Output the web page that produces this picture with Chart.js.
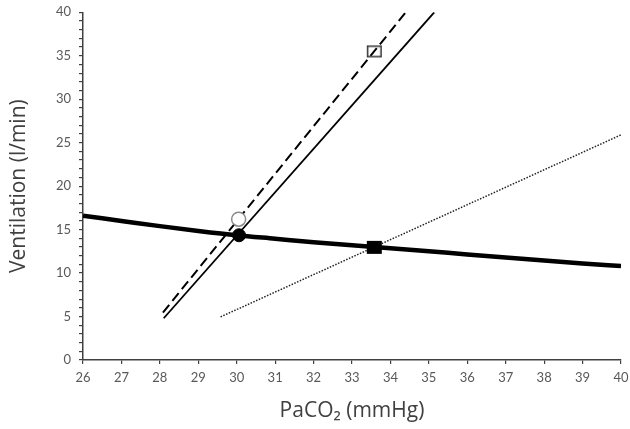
<!DOCTYPE html>
<html>
<head>
<meta charset="utf-8">
<script src="https://cdn.jsdelivr.net/npm/chart.js@4"></script>
<style>
  html, body { margin: 0; padding: 0; background: #fff; }
  #wrap { width: 630px; height: 429px; position: relative; }
</style>
</head>
<body>
<div id="wrap"><canvas id="c" width="630" height="429"></canvas></div>
<script>
// Thick curve (ventilation response)
const curveX = [26, 27, 28, 29, 30, 31, 32, 33, 34, 35, 36, 37, 38, 39, 40];
const curveY = [16.6, 16.0, 15.4, 14.85, 14.35, 13.95, 13.55, 13.2, 12.85, 12.5, 12.15, 11.8, 11.45, 11.1, 10.8];
// Solid line
const solidX = [28.1, 35.14];
const solidY = [4.8, 40];
// Dashed line
const dashedX = [28.08, 34.4];
const dashedY = [5.46, 40];
// Dotted line
const dottedX = [29.58, 40];
const dottedY = [4.96, 25.9];
// Markers
const filledCircle = [30.06, 14.35];
const openCircle = [30.05, 16.2];
const filledSquare = [33.58, 12.96];
const openSquare = [33.58, 35.5];
// Axes
const xMin = 26, xMax = 40;
const yMin = 0, yMax = 40;

function pts(xs, ys) { return xs.map((x, i) => ({ x: x, y: ys[i] })); }

function rectMarker(w, h, fill, stroke, lw) {
  const c = document.createElement('canvas');
  c.width = w + 2; c.height = h + 2;
  const g = c.getContext('2d');
  if (fill) { g.fillStyle = fill; g.fillRect(1, 1, w, h); }
  if (stroke) { g.strokeStyle = stroke; g.lineWidth = lw; g.strokeRect(1 + lw / 2, 1 + lw / 2, w - lw, h - lw); }
  return c;
}

const fsq = rectMarker(15, 13, '#000', null, 0);
const osq = rectMarker(15, 12, null, '#333', 1.5);

const tickFont = { family: 'Lato, "Open Sans", sans-serif', size: 13 };
const titleFont = { family: '"Open Sans", Lato, sans-serif', size: 21 };

new Chart(document.getElementById('c'), {
  type: 'scatter',
  data: {
    datasets: [
      { data: [{ x: openSquare[0], y: openSquare[1] }], pointStyle: osq, pointRadius: 8, showLine: false },
      { data: [{ x: filledSquare[0], y: filledSquare[1] }], pointStyle: fsq, pointRadius: 8, showLine: false },
      { data: [{ x: openCircle[0], y: openCircle[1] }], pointStyle: 'circle', pointRadius: 7, backgroundColor: '#fff', borderColor: '#8a8a8a', borderWidth: 1.5, showLine: false },
      { data: [{ x: filledCircle[0], y: filledCircle[1] }], pointStyle: 'circle', pointRadius: 6.5, backgroundColor: '#000', borderColor: '#000', borderWidth: 1, showLine: false },
      { data: pts(curveX, curveY), showLine: true, borderColor: '#000', borderWidth: 4.5, pointRadius: 0, tension: 0.4, cubicInterpolationMode: 'monotone' },
      { data: pts(solidX, solidY), showLine: true, borderColor: '#000', borderWidth: 1.8, pointRadius: 0 },
      { data: pts(dashedX, dashedY), showLine: true, borderColor: '#000', borderWidth: 2, borderDash: [10, 5], pointRadius: 0 },
      { data: pts(dottedX, dottedY), showLine: true, borderColor: '#222', borderWidth: 1.5, borderDash: [1.5, 1.5], pointRadius: 0 }
    ]
  },
  options: {
    responsive: false,
    animation: false,
    layout: { padding: { top: 12.3, right: 8, left: 0, bottom: 0 } },
    plugins: { legend: { display: false }, tooltip: { enabled: false } },
    scales: {
      x: {
        type: 'linear', min: xMin, max: xMax,
        ticks: { stepSize: 1, color: '#595959', font: tickFont, padding: 6, autoSkip: false, maxRotation: 0 },
        grid: { display: true, drawOnChartArea: false, drawTicks: true, tickLength: 4, color: '#404040', lineWidth: 1.2 },
        border: { display: true, color: '#404040', width: 1.5 },
        title: { display: true, text: 'PaCO₂ (mmHg)', color: '#404040', font: titleFont, padding: { top: 8, bottom: 5 } },
        afterFit: (s) => { s.height = 69; s.paddingLeft = 0; s.paddingRight = 0; }
      },
      y: {
        type: 'linear', min: yMin, max: yMax,
        ticks: { stepSize: 1, color: '#595959', font: tickFont, padding: 8, autoSkip: false,
          callback: (v) => (v % 5 === 0 ? v : '') },
        grid: { display: true, drawOnChartArea: false, drawTicks: true, tickLength: 4, color: '#404040', lineWidth: 1.2 },
        border: { display: true, color: '#404040', width: 1.5 },
        title: { display: true, text: 'Ventilation (l/min)', color: '#404040', font: titleFont, padding: { top: 6, bottom: 4 } },
        afterFit: (s) => { s.width = 83; s.paddingTop = 0; s.paddingBottom = 0; }
      }
    }
  }
});
</script>
</body>
</html>
